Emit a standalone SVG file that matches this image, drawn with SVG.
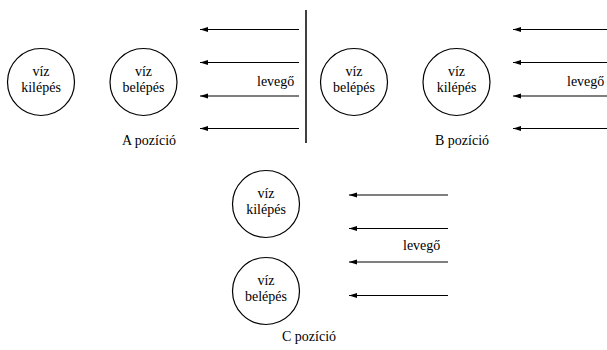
<svg xmlns="http://www.w3.org/2000/svg" width="607" height="350" viewBox="0 0 607 350" font-family="Liberation Serif, Times New Roman, DejaVu Serif, serif" font-size="14">
<style>
.c{text-anchor:middle}
circle{fill:#fff;stroke:#000;stroke-width:1.2}
.a{stroke:#000;stroke-width:1.2;fill:none;marker-end:url(#ah)}
.w{stroke:#000;stroke-width:1.5}
</style>
<defs>
<marker id="ah" markerUnits="userSpaceOnUse" markerWidth="8" markerHeight="6" refX="8" refY="3" orient="auto">
<path d="M0,0.5 L8,3 L0,5.5 Z" fill="#000"/>
</marker>
</defs>
<rect width="607" height="350" fill="#fff"/>
<g id="A1"><circle cx="41" cy="82" r="33.5"/><text class="c" x="41" y="76" font-family="Liberation Serif, serif">víz</text><text class="c" x="41" y="92" font-family="Liberation Serif, serif">kilépés</text></g>
<g id="A2"><circle cx="143.5" cy="82" r="33.5"/><text class="c" x="143.5" y="76">víz</text><text class="c" x="143.5" y="92">belépés</text></g>
<g id="B1"><circle cx="354" cy="82" r="33.5"/><text class="c" x="354" y="76">víz</text><text class="c" x="354" y="92">belépés</text></g>
<g id="B2"><circle cx="456.5" cy="82" r="33.5"/><text class="c" x="456.5" y="76">víz</text><text class="c" x="456.5" y="92">kilépés</text></g>
<g id="C1"><circle cx="266" cy="204" r="33.5"/><text class="c" x="266" y="198">víz</text><text class="c" x="266" y="214">kilépés</text></g>
<g id="C2"><circle cx="266" cy="291" r="33.5"/><text class="c" x="266" y="285">víz</text><text class="c" x="266" y="301">belépés</text></g>
<g id="wall"><line class="w" x1="306" y1="10" x2="306" y2="143"/></g>
<g id="connectors">
<line class="a" x1="299" y1="29.5" x2="200" y2="29.5"/>
<line class="a" x1="299" y1="62.5" x2="200" y2="62.5"/>
<line class="a" x1="299" y1="96" x2="200" y2="96"/>
<line class="a" x1="299" y1="128.5" x2="200" y2="128.5"/>
<line class="a" x1="612" y1="29.5" x2="513" y2="29.5"/>
<line class="a" x1="612" y1="62.5" x2="513" y2="62.5"/>
<line class="a" x1="612" y1="96" x2="513" y2="96"/>
<line class="a" x1="612" y1="128.5" x2="513" y2="128.5"/>
<line class="a" x1="448" y1="195" x2="349" y2="195"/>
<line class="a" x1="448" y1="228.5" x2="349" y2="228.5"/>
<line class="a" x1="448" y1="262" x2="349" y2="262"/>
<line class="a" x1="448" y1="295.5" x2="349" y2="295.5"/>
</g>
<g id="labels">
<text x="257" y="86">levegő</text>
<text x="567" y="86">levegő</text>
<text x="403" y="250">levegő</text>
<text x="122" y="145">A pozíció</text>
<text x="435" y="145">B pozíció</text>
<text x="282" y="341">C pozíció</text>
</g>
</svg>
